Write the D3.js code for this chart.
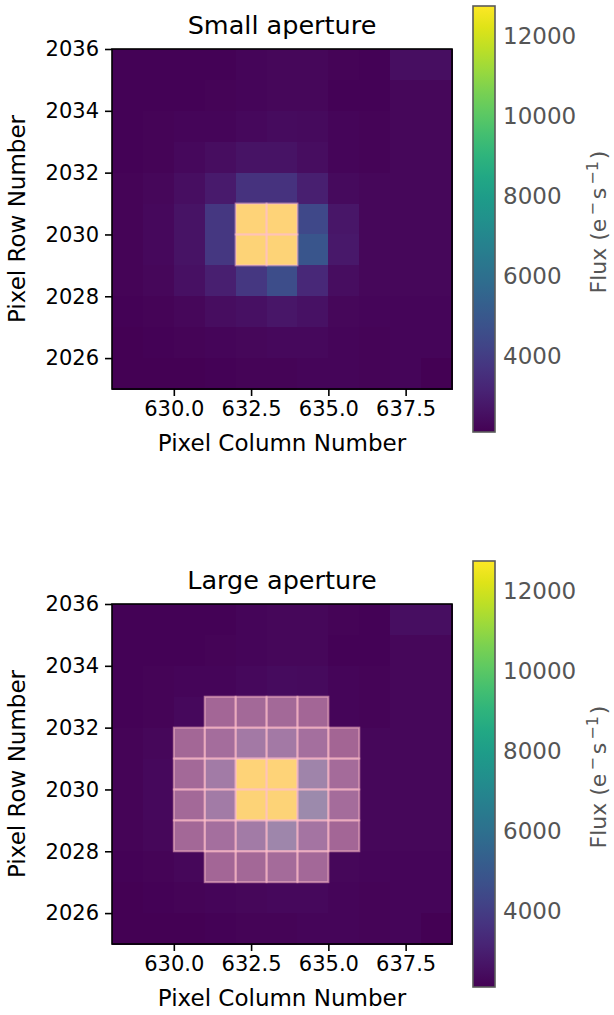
<!DOCTYPE html>
<html><head><meta charset="utf-8">
<script src="https://cdn.jsdelivr.net/npm/d3@7"></script>
<style>
body{margin:0;background:#fff;}
text{font-family:"DejaVu Sans",sans-serif;}
</style>
</head><body>
<svg id="chart" width="614" height="1015"></svg>
<script>
// ---- data ----
const columns = [628, 629, 630, 631, 632, 633, 634, 635, 636, 637, 638];
const rows = [2035, 2034, 2033, 2032, 2031, 2030, 2029, 2028, 2027, 2026, 2025]; // top to bottom
// flux (e-/s), rows top (2035) to bottom (2025), columns 628..638
const flux2035 = [2160, 2160, 2170, 2180, 2280, 2300, 2300, 2200, 2190, 2500, 2500];
const flux2034 = [2160, 2160, 2180, 2200, 2250, 2300, 2300, 2190, 2180, 2300, 2300];
const flux2033 = [2170, 2200, 2250, 2280, 2330, 2420, 2400, 2250, 2200, 2300, 2300];
const flux2032 = [2170, 2220, 2350, 2450, 2650, 2650, 2450, 2280, 2200, 2300, 2300];
const flux2031 = [2200, 2300, 2500, 2850, 3650, 3650, 3000, 2400, 2300, 2300, 2300];
const flux2030 = [2200, 2350, 2650, 3800, 12750, 12720, 4400, 2700, 2300, 2300, 2300];
const flux2029 = [2200, 2350, 2650, 3800, 12700, 12680, 4900, 2800, 2300, 2300, 2300];
const flux2028 = [2200, 2300, 2550, 3000, 3800, 4600, 3300, 2450, 2300, 2300, 2300];
const flux2027 = [2170, 2200, 2300, 2450, 2550, 2700, 2600, 2300, 2250, 2250, 2250];
const flux2026 = [2150, 2170, 2200, 2250, 2300, 2350, 2350, 2250, 2200, 2250, 2250];
const flux2025 = [2150, 2150, 2150, 2160, 2200, 2200, 2250, 2250, 2200, 2250, 2150];
const fluxRows = [flux2035, flux2034, flux2033, flux2032, flux2031, flux2030, flux2029, flux2028, flux2027, flux2026, flux2025];

const fluxRange = [2115, 12750];
const xTicks = [630.0, 632.5, 635.0, 637.5];
const yTicks = [2026, 2028, 2030, 2032, 2034, 2036];
const cbTicks = [4000, 6000, 8000, 10000, 12000];
const xExtent = [628, 639];
const yExtent = [2025, 2036];

// aperture masks: [column, row]
const smallAperture = [[632, 2030], [633, 2030], [632, 2029], [633, 2029]];
const largeAperture = [
  [631, 2032], [632, 2032], [633, 2032], [634, 2032],
  [630, 2031], [631, 2031], [632, 2031], [633, 2031], [634, 2031], [635, 2031],
  [630, 2030], [631, 2030], [632, 2030], [633, 2030], [634, 2030], [635, 2030],
  [630, 2029], [631, 2029], [632, 2029], [633, 2029], [634, 2029], [635, 2029],
  [630, 2028], [631, 2028], [632, 2028], [633, 2028], [634, 2028], [635, 2028],
  [631, 2027], [632, 2027], [633, 2027], [634, 2027]
];
const titles = ["Small aperture", "Large aperture"];
const apertures = [smallAperture, largeAperture];

// ---- layout ----
const svg = d3.select("#chart");
const frame = {left: 112, right: 452, size: 340};
const panelTops = [49, 604];
const cbBox = {left: 473, width: 22, topOffset: -43, bottomOffset: 43};
const color = d3.scaleSequential(d3.interpolateViridis).domain(fluxRange);

const cells = [];
rows.forEach((r, i) => columns.forEach((c, j) => cells.push({col: c, row: r, v: fluxRows[i][j]})));

const defs = svg.append("defs");
const grad = defs.append("linearGradient").attr("id", "cbgrad")
  .attr("x1", 0).attr("y1", 1).attr("x2", 0).attr("y2", 0);
d3.range(0, 1.0001, 0.05).forEach(t => {
  grad.append("stop").attr("offset", t).attr("stop-color", d3.interpolateViridis(t));
});

panelTops.forEach((top, p) => {
  const g = svg.append("g");
  const x = d3.scaleLinear().domain(xExtent).range([frame.left, frame.right]);
  const y = d3.scaleLinear().domain(yExtent).range([top + frame.size, top]);

  g.append("g").attr("shape-rendering", "crispEdges").selectAll("rect").data(cells).join("rect")
    .attr("x", d => x(d.col))
    .attr("y", d => y(d.row + 1))
    .attr("width", d => x(d.col + 1) - x(d.col) + 0.5)
    .attr("height", d => y(d.row) - y(d.row + 1) + 0.5)
    .attr("fill", d => color(d.v));

  g.append("g").selectAll("rect").data(apertures[p]).join("rect")
    .attr("x", d => x(d[0]))
    .attr("y", d => y(d[1] + 1))
    .attr("width", d => x(d[0] + 1) - x(d[0]))
    .attr("height", d => y(d[1]) - y(d[1] + 1))
    .attr("fill", "pink").attr("fill-opacity", 0.5)
    .attr("stroke", "pink").attr("stroke-opacity", 0.55).attr("stroke-width", 2);

  // frame
  g.append("rect").attr("x", frame.left).attr("y", top)
    .attr("width", frame.size).attr("height", frame.size)
    .attr("fill", "none").attr("stroke", "#000").attr("stroke-width", 1.6);

  // axes
  const xa = g.append("g").attr("transform", `translate(0,${top + frame.size})`)
    .call(d3.axisBottom(x).tickValues(xTicks).tickFormat(d3.format(".1f")).tickSize(7).tickPadding(5));
  const ya = g.append("g").attr("transform", `translate(${frame.left},0)`)
    .call(d3.axisLeft(y).tickValues(yTicks).tickFormat(d => d).tickSize(7).tickPadding(6));
  [xa, ya].forEach(a => {
    a.select(".domain").remove();
    a.selectAll("line").attr("stroke", "#000").attr("stroke-width", 1.6);
    a.selectAll("text").attr("fill", "#000").style("font-size", "21px").style("font-family", "DejaVu Sans");
  });

  // title & labels
  g.append("text").attr("x", (frame.left + frame.right) / 2).attr("y", top - 15)
    .attr("text-anchor", "middle").style("font-size", "25.5px").attr("fill", "#000").text(titles[p]);
  g.append("text").attr("x", (frame.left + frame.right) / 2).attr("y", top + frame.size + 62)
    .attr("text-anchor", "middle").style("font-size", "23px").attr("fill", "#000").text("Pixel Column Number");
  g.append("text").attr("transform", `translate(25,${top + frame.size / 2}) rotate(-90)`)
    .attr("text-anchor", "middle").style("font-size", "23px").attr("fill", "#000").text("Pixel Row Number");

  // colorbar
  const cbTop = top + cbBox.topOffset, cbBottom = top + frame.size + cbBox.bottomOffset;
  const cb = d3.scaleLinear().domain(fluxRange).range([cbBottom, cbTop]);
  g.append("rect").attr("x", cbBox.left).attr("y", cb(fluxRange[1]))
    .attr("width", cbBox.width).attr("height", cb(fluxRange[0]) - cb(fluxRange[1]))
    .attr("fill", "url(#cbgrad)").attr("stroke", "#5a5a5a").attr("stroke-width", 1.6);
  const ca = g.append("g").attr("transform", `translate(${cbBox.left + cbBox.width},0)`)
    .call(d3.axisRight(cb).tickValues(cbTicks).tickFormat(d => d).tickSize(0).tickPadding(8));
  ca.select(".domain").remove();
  ca.selectAll("text").attr("fill", "#555").style("font-size", "23px").style("font-family", "DejaVu Sans");

  const lab = g.append("text")
    .attr("transform", `translate(606,${(cbTop + cbBottom) / 2 + 3}) rotate(-90)`)
    .attr("text-anchor", "middle").style("font-size", "22px").attr("fill", "#555");
  lab.append("tspan").text("Flux (e");
  lab.append("tspan").attr("dy", -8).attr("dx", 3).style("font-size", "16px").text("−");
  lab.append("tspan").attr("dy", 8).attr("dx", 3).text("s");
  lab.append("tspan").attr("dy", -8).attr("dx", 3).style("font-size", "16px").text("−1");
  lab.append("tspan").attr("dy", 8).attr("dx", 2).text(")");
});
</script>
</body></html>
